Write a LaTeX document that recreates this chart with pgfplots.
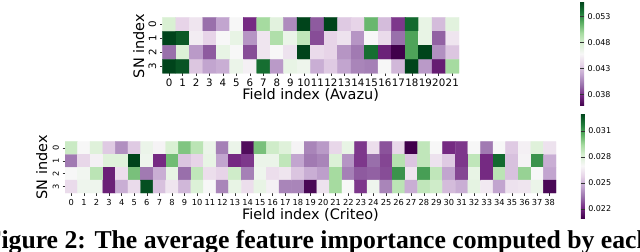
\documentclass[border=0pt]{standalone}
\usepackage{pgfplots}
\pgfplotsset{compat=1.18}
\usepackage{pgfplotstable}
\usepackage{fontspec}
\setmainfont{DejaVu Sans}
\newfontfamily\capfont{Liberation Serif}

\pgfplotsset{
  colormap={PRGn}{rgb255=(64,0,75) rgb255=(118,42,131) rgb255=(153,112,171) rgb255=(194,165,207) rgb255=(231,212,232) rgb255=(247,247,247) rgb255=(217,240,211) rgb255=(166,219,160) rgb255=(90,174,97) rgb255=(27,120,55) rgb255=(0,68,27)},
  hm/.style={
    scale only axis, y dir=reverse, axis line style={draw=none},
    tick align=outside, tick pos=left, major tick length=2.5bp,
    tick style={line width=0.6bp, color=black!80},
    enlargelimits=false,
    ytick={0,1,2,3},
    /pgf/number format/assume math mode=true,
    yticklabel style={rotate=90, anchor=south},
    colorbar,
  },
  cb/.style={
    scale only axis, width=4bp,
    axis line style={draw=none},
    scaled y ticks=false,
    major tick length=2.5bp,
    tick style={line width=0.6bp, color=black!80},
    yticklabel style={font=\fontsize{8}{9}\selectfont, /pgf/number format/.cd, fixed, fixed zerofill, precision=3, assume math mode=true},
    at={(parent axis.north east)}, anchor=north west,
  },
}

\pgfplotstableread[row sep=\\]{
x y c\\
0 0 0.04787\\ 1 0 0.04385\\ 2 0 0.04486\\ 3 0 0.03984\\ 4 0 0.04185\\ 5 0 0.04586\\ 6 0 0.03784\\ 7 0 0.04987\\ 8 0 0.04726\\ 9 0 0.04085\\ 10 0 0.05589\\ 11 0 0.03924\\ 12 0 0.05589\\ 13 0 0.04345\\ 14 0 0.04385\\ 15 0 0.05148\\ 16 0 0.04285\\ 17 0 0.03824\\ 18 0 0.05449\\ 19 0 0.04686\\ 20 0 0.04285\\ 21 0 0.04726\\
0 1 0.05589\\ 1 1 0.05509\\ 2 1 0.04526\\ 3 1 0.04385\\ 4 1 0.04586\\ 5 1 0.04686\\ 6 1 0.04125\\ 7 1 0.04486\\ 8 1 0.04947\\ 9 1 0.04666\\ 10 1 0.04887\\ 11 1 0.03884\\ 12 1 0.04385\\ 13 1 0.04466\\ 14 1 0.04125\\ 15 1 0.04586\\ 16 1 0.04426\\ 17 1 0.03984\\ 18 1 0.05228\\ 19 1 0.04686\\ 20 1 0.03944\\ 21 1 0.04486\\
0 2 0.03984\\ 1 2 0.04767\\ 2 2 0.04145\\ 3 2 0.03924\\ 4 2 0.04686\\ 5 2 0.04586\\ 6 2 0.03884\\ 7 2 0.04486\\ 8 2 0.04586\\ 9 2 0.04466\\ 10 2 0.05589\\ 11 2 0.04426\\ 12 2 0.04385\\ 13 2 0.04125\\ 14 2 0.04024\\ 15 2 0.05429\\ 16 2 0.03744\\ 17 2 0.03583\\ 18 2 0.05228\\ 19 2 0.05589\\ 20 2 0.04105\\ 21 2 0.04325\\
0 3 0.05589\\ 1 3 0.05529\\ 2 3 0.04325\\ 3 3 0.04185\\ 4 3 0.04225\\ 5 3 0.04666\\ 6 3 0.04546\\ 7 3 0.05429\\ 8 3 0.04145\\ 9 3 0.04686\\ 10 3 0.04646\\ 11 3 0.04225\\ 12 3 0.04345\\ 13 3 0.04185\\ 14 3 0.04064\\ 15 3 0.04044\\ 16 3 0.04586\\ 17 3 0.04265\\ 18 3 0.05589\\ 19 3 0.04145\\ 20 3 0.03723\\ 21 3 0.04987\\
}\avazu

\pgfplotstableread[row sep=\\]{
x y c\\
0 0 0.02856\\ 1 0 0.02698\\ 2 0 0.02795\\ 3 0 0.02553\\ 4 0 0.02407\\ 5 0 0.02553\\ 6 0 0.02746\\ 7 0 0.02686\\ 8 0 0.02819\\ 9 0 0.03001\\ 10 0 0.02892\\ 11 0 0.02746\\ 12 0 0.02371\\ 13 0 0.02746\\ 14 0 0.02128\\ 15 0 0.03013\\ 16 0 0.02843\\ 17 0 0.02795\\ 18 0 0.02686\\ 19 0 0.02383\\ 20 0 0.02431\\ 21 0 0.02589\\ 22 0 0.02759\\ 23 0 0.02237\\ 24 0 0.02613\\ 25 0 0.02286\\ 26 0 0.02589\\ 27 0 0.02092\\ 28 0 0.02880\\ 29 0 0.02698\\ 30 0 0.02213\\ 31 0 0.02237\\ 32 0 0.02698\\ 33 0 0.02359\\ 34 0 0.02698\\ 35 0 0.02553\\ 36 0 0.02674\\ 37 0 0.02795\\ 38 0 0.02625\\
0 1 0.02359\\ 1 1 0.02589\\ 2 1 0.02674\\ 3 1 0.02795\\ 4 1 0.02795\\ 5 1 0.03304\\ 6 1 0.02734\\ 7 1 0.02213\\ 8 1 0.03025\\ 9 1 0.02540\\ 10 1 0.02577\\ 11 1 0.02759\\ 12 1 0.02456\\ 13 1 0.02213\\ 14 1 0.02237\\ 15 1 0.02746\\ 16 1 0.02746\\ 17 1 0.02880\\ 18 1 0.02456\\ 19 1 0.02359\\ 20 1 0.02383\\ 21 1 0.02807\\ 22 1 0.02419\\ 23 1 0.02237\\ 24 1 0.02334\\ 25 1 0.02262\\ 26 1 0.02904\\ 27 1 0.02540\\ 28 1 0.02880\\ 29 1 0.02625\\ 30 1 0.02553\\ 31 1 0.02237\\ 32 1 0.02880\\ 33 1 0.02213\\ 34 1 0.03219\\ 35 1 0.02528\\ 36 1 0.02686\\ 37 1 0.03122\\ 38 1 0.02480\\
0 2 0.02698\\ 1 2 0.02722\\ 2 2 0.02892\\ 3 2 0.02189\\ 4 2 0.02613\\ 5 2 0.03013\\ 6 2 0.02359\\ 7 2 0.02480\\ 8 2 0.02759\\ 9 2 0.02334\\ 10 2 0.02880\\ 11 2 0.02613\\ 12 2 0.02577\\ 13 2 0.02843\\ 14 2 0.02371\\ 15 2 0.02734\\ 16 2 0.02613\\ 17 2 0.02637\\ 18 2 0.02540\\ 19 2 0.02480\\ 20 2 0.02443\\ 21 2 0.02940\\ 22 2 0.02371\\ 23 2 0.02298\\ 24 2 0.02310\\ 25 2 0.02274\\ 26 2 0.03122\\ 27 2 0.02637\\ 28 2 0.03098\\ 29 2 0.02880\\ 30 2 0.02456\\ 31 2 0.02262\\ 32 2 0.02759\\ 33 2 0.02213\\ 34 2 0.02892\\ 35 2 0.02528\\ 36 2 0.02965\\ 37 2 0.02698\\ 38 2 0.02456\\
0 3 0.02601\\ 1 3 0.02734\\ 2 3 0.02734\\ 3 3 0.02189\\ 4 3 0.02480\\ 5 3 0.02601\\ 6 3 0.03280\\ 7 3 0.02528\\ 8 3 0.02637\\ 9 3 0.02504\\ 10 3 0.02807\\ 11 3 0.02698\\ 12 3 0.02383\\ 13 3 0.02759\\ 14 3 0.02613\\ 15 3 0.02759\\ 16 3 0.02674\\ 17 3 0.02383\\ 18 3 0.02383\\ 19 3 0.02116\\ 20 3 0.02625\\ 21 3 0.02940\\ 22 3 0.02698\\ 23 3 0.02237\\ 24 3 0.02734\\ 25 3 0.02383\\ 26 3 0.02892\\ 27 3 0.02480\\ 28 3 0.02880\\ 29 3 0.02843\\ 30 3 0.02516\\ 31 3 0.02480\\ 32 3 0.02771\\ 33 3 0.02650\\ 34 3 0.02456\\ 35 3 0.02625\\ 36 3 0.02637\\ 37 3 0.02746\\ 38 3 0.02116\\
}\criteo

\begin{document}
\begin{tikzpicture}
\useasboundingbox (0,0) rectangle (640bp,252bp);
\clip (0,0) rectangle (640bp,252bp);

% Avazu
\begin{axis}[hm,
  at={(162.3bp,178.7bp)}, anchor=south west,
  width=296.7bp, height=56bp,
  xmin=-0.5, xmax=21.5, ymin=-0.5, ymax=3.5,
  xtick={0,...,21},
  tick label style={font=\fontsize{10.3}{12}\selectfont},
  point meta min=0.03583, point meta max=0.05589,
  colorbar style={cb, height=104.3bp, xshift=112.7bp, yshift=15.6bp,
    ytick={0.038,0.043,0.048,0.053}},
]
\addplot[matrix plot*, mesh/cols=22, point meta=explicit] table[x=x, y=y, meta=c] {\avazu};
\end{axis}

% Criteo
\begin{axis}[hm,
  at={(65bp,59bp)}, anchor=south west,
  width=491bp, height=51.3bp,
  xmin=-0.5, xmax=38.5, ymin=-0.5, ymax=3.5,
  xtick={0,...,38},
  tick label style={font=\fontsize{8.3}{10}\selectfont},
  point meta min=0.02093, point meta max=0.03304,
  colorbar style={cb, height=105bp, xshift=16.3bp, yshift=28.4bp,
    ytick={0.022,0.025,0.028,0.031}},
]
\addplot[matrix plot*, mesh/cols=39, point meta=explicit] table[x=x, y=y, meta=c] {\criteo};
\end{axis}

\node[anchor=base, font=\fontsize{14.5}{16}\selectfont] at (310.7bp,152bp) {Field index (Avazu)};
\node[anchor=base, font=\fontsize{14.5}{16}\selectfont] at (310.5bp,33bp) {Field index (Criteo)};
\node[rotate=90, anchor=base, font=\fontsize{14.5}{16}\selectfont] at (144bp,206bp) {SN index};
\node[rotate=90, anchor=base, font=\fontsize{14.5}{16}\selectfont] at (47bp,84.5bp) {SN index};

\node[anchor=base west, inner sep=0pt, font=\capfont\bfseries\fontsize{25.8}{30}\selectfont] at (-14.4bp,3.9bp) {Figure 2: The average feature importance computed by each};
\end{tikzpicture}
\end{document}
